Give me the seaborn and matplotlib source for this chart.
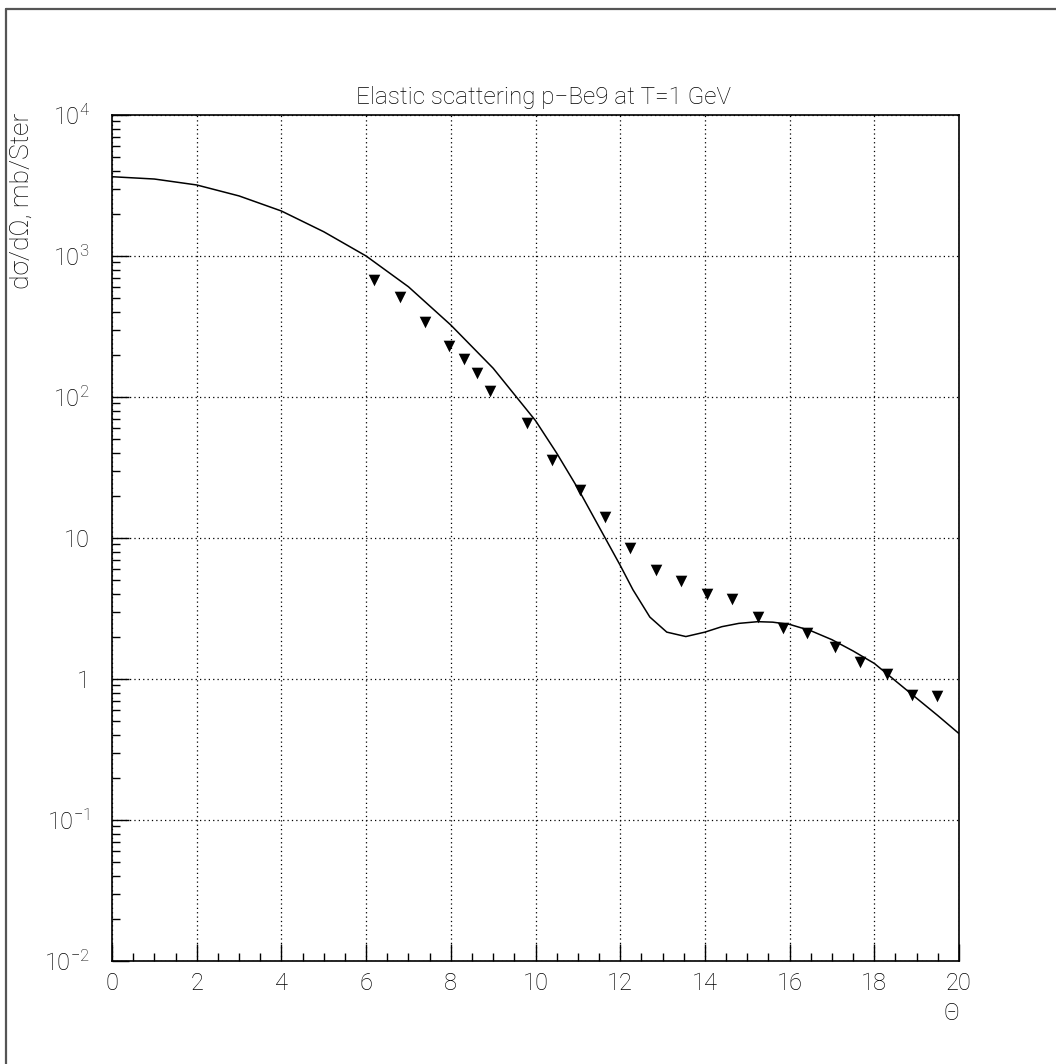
import numpy as np
import pandas as pd
import matplotlib
matplotlib.use("Agg")
import matplotlib.pyplot as plt
from matplotlib import font_manager
from matplotlib.ticker import FixedLocator, FixedFormatter, LogLocator, MultipleLocator, NullFormatter
from matplotlib.lines import Line2D
import seaborn as sns

# ---- data ----
theta_theory = [0, 1, 2, 3, 4, 5, 6, 7, 8, 9, 10, 10.5, 11, 11.5, 12, 12.3, 12.7,
                13.1, 13.55, 14, 14.4, 14.8, 15.25, 15.6, 16, 16.5, 17, 17.5, 18,
                18.5, 19, 19.5, 20]
sigma_theory = [3650, 3515, 3190, 2667, 2085, 1486, 1000, 605, 324, 160, 68, 40,
                22.5, 12, 6.4, 4.3, 2.75, 2.15, 2.0, 2.15, 2.35, 2.48, 2.55, 2.53,
                2.44, 2.2, 1.9, 1.58, 1.29, 0.97, 0.73, 0.55, 0.41]

theta_exp = [6.19, 6.80, 7.39, 7.95, 8.31, 8.62, 8.93, 9.81, 10.40, 11.05, 11.64,
             12.23, 12.85, 13.44, 14.04, 14.63, 15.26, 15.85, 16.42, 17.07, 17.66,
             18.29, 18.90, 19.49]
sigma_exp = [676, 514, 342, 230, 187, 149, 110, 65, 36, 21.9, 14.0, 8.5, 5.93,
             4.95, 3.98, 3.67, 2.74, 2.31, 2.13, 1.68, 1.31, 1.08, 0.77, 0.76]

y_tick_values = [1e-2, 1e-1, 1, 10, 1e2, 1e3, 1e4]
y_tick_labels = [r'$\mathregular{10^{-2}}$', r'$\mathregular{10^{-1}}$', '1', '10',
                 r'$\mathregular{10^{2}}$', r'$\mathregular{10^{3}}$', r'$\mathregular{10^{4}}$']
x_tick_values = list(range(0, 21, 2))

title_text = "Elastic scattering p\u2212Be9 at T=1 GeV"
ylabel_text = "d\u03c3/d\u03a9, mb/Ster"
xlabel_text = "\u0398"

sns.set_theme(style="white")
names = {f.name for f in font_manager.fontManager.ttflist}
main_font = 'Roboto' if 'Roboto' in names else 'DejaVu Sans'
plt.rcParams['font.family'] = [main_font, 'DejaVu Sans']
plt.rcParams['font.weight'] = 'light'
plt.rcParams['mathtext.fontset'] = 'custom'
plt.rcParams['mathtext.rm'] = main_font + ':light'

fig = plt.figure(figsize=(10.56, 10.64), dpi=100)
ax = fig.add_axes([112/1056, 1 - 961/1064, 847/1056, 846/1064])

df_th = pd.DataFrame({"theta": theta_theory, "sigma": sigma_theory})
df_ex = pd.DataFrame({"theta": theta_exp, "sigma": sigma_exp})

sns.lineplot(data=df_th, x="theta", y="sigma", ax=ax, color="black", linewidth=1.1,
             sort=False)
sns.scatterplot(data=df_ex, x="theta", y="sigma", ax=ax, marker="v", color="black",
                s=70, edgecolor="black", linewidth=0)

ax.set_yscale("log")
ax.set_xlim(0, 20)
ax.set_ylim(1e-2, 1e4)

ax.yaxis.set_major_locator(FixedLocator(y_tick_values))
ax.yaxis.set_major_formatter(FixedFormatter(y_tick_labels))
ax.yaxis.set_minor_locator(LogLocator(base=10, subs=np.arange(2, 10)))
ax.yaxis.set_minor_formatter(NullFormatter())
ax.xaxis.set_major_locator(FixedLocator(x_tick_values))
ax.xaxis.set_minor_locator(MultipleLocator(0.5))

ax.tick_params(axis='both', which='both', bottom=True, left=True, top=False, right=False)
ax.tick_params(axis='both', which='major', direction='in', length=12, width=1,
               color='black', labelsize=17, labelcolor='black')
ax.tick_params(axis='y', which='major', pad=16)
ax.tick_params(axis='x', which='major', pad=8)
ax.tick_params(axis='both', which='minor', direction='in', length=6, width=1,
               color='black')

ax.grid(True, which='major', color='black', linestyle=(0, (1, 2.5)), linewidth=0.9)
for sp in ax.spines.values():
    sp.set_color('black')
    sp.set_linewidth(1.2)

ax.set_xlabel("")
ax.set_ylabel("")

fig.text(543/1056, 1 - 104/1064, title_text, ha='center', va='baseline', fontsize=17.5,
         color='black')
fig.text(22/1056, 1 - 113/1064, ylabel_text, rotation=90, ha='center', va='top',
         fontsize=19, color='black')
fig.text(951/1056, 1 - 1020/1064, xlabel_text, ha='center', va='baseline', fontsize=17,
         color='black')

# outer frame
fig.add_artist(Line2D([6/1056, 6/1056], [0, 1 - 9/1064], transform=fig.transFigure,
                      color='#555555', linewidth=1.6))
fig.add_artist(Line2D([6/1056, 1], [1 - 9/1064, 1 - 9/1064], transform=fig.transFigure,
                      color='#555555', linewidth=1.6))

fig.savefig("out.png", dpi=100)
